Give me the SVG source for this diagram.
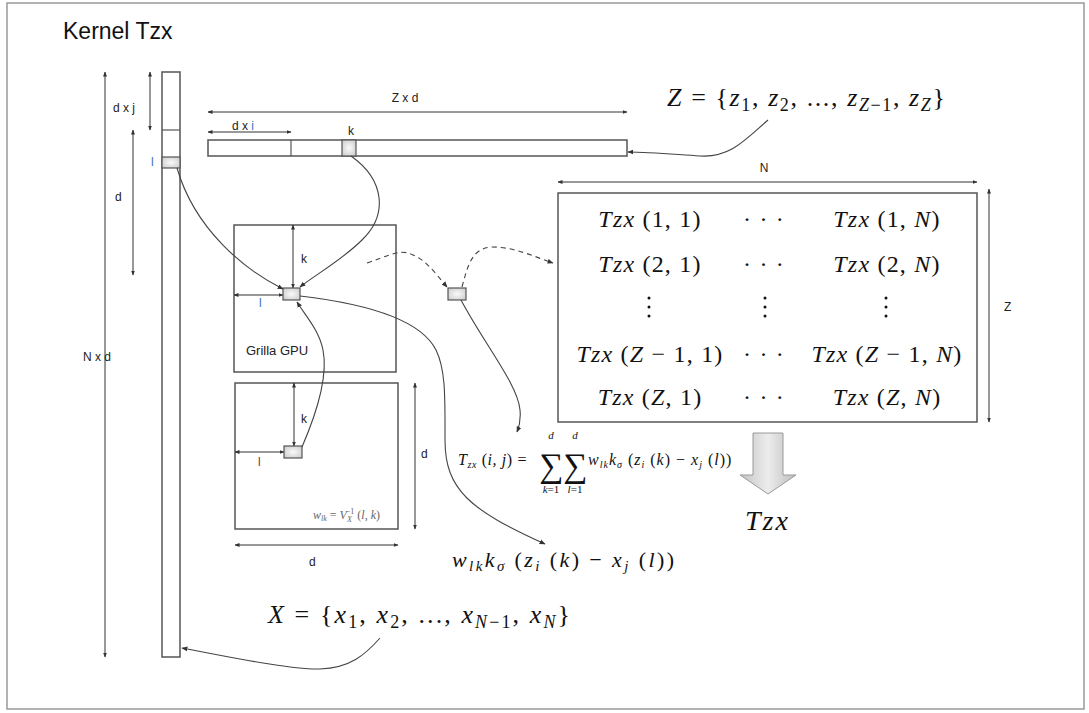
<svg xmlns="http://www.w3.org/2000/svg" width="1089" height="713" viewBox="0 0 1089 713">
<defs>
<style>
.lbl{font-family:"Liberation Sans",Arial,sans-serif;font-size:12px;fill:#222}
.m{font-family:"Liberation Serif","Times New Roman",serif;fill:#111}
.it{font-style:italic}
.box{fill:none;stroke:#555;stroke-width:1.5}
.dim{fill:none;stroke:#333;stroke-width:1;marker-start:url(#t);marker-end:url(#t)}
.con{fill:none;stroke:#444;stroke-width:1.1;marker-end:url(#a)}
.dash{fill:none;stroke:#444;stroke-width:1.1;stroke-dasharray:5 4;marker-end:url(#a)}
.cell{fill:url(#cg);stroke:#555;stroke-width:1.2}
</style>
<radialGradient id="cg" cx="0.5" cy="0.5" r="0.7"><stop offset="0" stop-color="#fafafa"/><stop offset="1" stop-color="#c8c8c8"/></radialGradient>
<linearGradient id="ag" x1="0" y1="0" x2="1" y2="0"><stop offset="0" stop-color="#c4c4c4"/><stop offset="0.5" stop-color="#ececec"/><stop offset="1" stop-color="#bdbdbd"/></linearGradient>
<marker id="a" viewBox="0 0 10 10" refX="9" refY="5" markerWidth="6" markerHeight="6" orient="auto" markerUnits="userSpaceOnUse"><path d="M0,1 L10,5 L0,9 z" fill="#333"/></marker>
<marker id="t" viewBox="0 0 10 10" refX="9" refY="5" markerWidth="5" markerHeight="5" orient="auto-start-reverse" markerUnits="userSpaceOnUse"><path d="M0,1 L10,5 L0,9 z" fill="#333"/></marker>
</defs>
<rect x="0" y="0" width="1089" height="713" fill="#fff"/>
<rect x="7" y="3" width="1077" height="706" fill="none" stroke="#999" stroke-width="1.5"/>
<text x="63" y="39" font-family="Liberation Sans,Arial,sans-serif" font-size="23" fill="#111">Kernel Tzx</text>

<g id="x-column">
<rect x="162" y="72" width="18" height="585" class="box" stroke="#777"/>
<line x1="162" y1="130" x2="180" y2="130" stroke="#555" stroke-width="1.2"/>
<rect x="162" y="157" width="18" height="11" class="cell"/>
<text x="151" y="166" class="lbl" style="fill:#3a6fc0">l</text>
</g>

<g id="dims-left">
<line x1="105" y1="72" x2="105" y2="657" class="dim"/>
<text x="83" y="361" class="lbl">N x d</text>
<line x1="150" y1="72" x2="150" y2="130" class="dim"/>
<text x="113" y="112" class="lbl">d x j</text>
<line x1="133" y1="130" x2="133" y2="275" class="dim"/>
<text x="115" y="201" class="lbl">d</text>
</g>

<g id="z-bar">
<rect x="208" y="140" width="419" height="16" class="box" stroke="#666"/>
<line x1="291" y1="140" x2="291" y2="156" stroke="#555" stroke-width="1.2"/>
<rect x="342" y="140" width="14" height="16" class="cell"/>
<text x="348" y="135" class="lbl">k</text>
<line x1="208" y1="112" x2="627" y2="112" class="dim"/>
<text x="405" y="102" class="lbl" text-anchor="middle">Z x d</text>
<line x1="208" y1="132" x2="291" y2="132" class="dim"/>
<text x="232" y="130" class="lbl">d x <tspan style="fill:#3a6fc0">i</tspan></text>
</g>

<g id="z-set">
<text x="667" y="106" class="m" font-size="26" letter-spacing="1.6"><tspan class="it">Z</tspan> = {<tspan class="it">z</tspan><tspan font-size="18" dy="5">1</tspan><tspan dy="-5">, </tspan><tspan class="it">z</tspan><tspan font-size="18" dy="5">2</tspan><tspan dy="-5">, ..., </tspan><tspan class="it">z</tspan><tspan font-size="18" dy="5"><tspan class="it">Z</tspan>−1</tspan><tspan dy="-5">, </tspan><tspan class="it">z</tspan><tspan font-size="18" dy="5" class="it">Z</tspan><tspan dy="-5">}</tspan></text>
</g>

<g id="grid1">
<rect x="234" y="225" width="162" height="147" class="box"/>
<line x1="293" y1="225" x2="293" y2="288" stroke="#333" stroke-width="1" marker-end="url(#t)" marker-start="url(#t)"/>
<line x1="234" y1="295" x2="283" y2="295" stroke="#333" stroke-width="1" marker-end="url(#t)" marker-start="url(#t)"/>
<rect x="283" y="288" width="17" height="12" class="cell"/>
<text x="301" y="263" class="lbl">k</text>
<text x="259" y="307" class="lbl" style="fill:#3a6fc0">l</text>
<text x="246" y="355" class="lbl" style="font-size:13px">Grilla GPU</text>
</g>

<g id="grid2">
<rect x="235" y="383" width="163" height="146" class="box"/>
<line x1="294" y1="383" x2="294" y2="446" stroke="#333" stroke-width="1" marker-end="url(#t)" marker-start="url(#t)"/>
<line x1="235" y1="452" x2="284" y2="452" stroke="#333" stroke-width="1" marker-end="url(#t)" marker-start="url(#t)"/>
<rect x="284" y="446" width="18" height="12" class="cell"/>
<text x="301" y="423" class="lbl">k</text>
<text x="258" y="466" class="lbl" style="fill:#8a2a2a">l</text>
<text x="313" y="519" class="m" font-size="12" style="fill:#666"><tspan class="it">w</tspan><tspan font-size="8" dy="2" class="it">lk</tspan><tspan dy="-2"> = </tspan><tspan class="it">V</tspan><tspan font-size="8" dy="3" class="it">X</tspan><tspan font-size="8" dx="-6" dy="-8">−1</tspan><tspan dy="5"> (</tspan><tspan class="it">l, k</tspan>)</text>
<line x1="415" y1="383" x2="415" y2="529" class="dim"/>
<text x="421" y="458" class="lbl">d</text>
<line x1="235" y1="545" x2="398" y2="545" class="dim"/>
<text x="309" y="566" class="lbl">d</text>
</g>

<g id="out-cell">
<rect x="448" y="288" width="18" height="12" class="cell"/>
</g>

<g id="matrix">
<rect x="558" y="193" width="419" height="229" class="box"/>
<line x1="558" y1="182" x2="977" y2="182" class="dim"/>
<text x="764" y="172" class="lbl" text-anchor="middle">N</text>
<line x1="989" y1="189" x2="989" y2="422" class="dim"/>
<text x="1004" y="311" class="lbl">Z</text>
<g class="m" font-size="24" text-anchor="middle" letter-spacing="1.2">
<text x="650" y="227"><tspan class="it">Tzx</tspan> (1, 1)</text>
<text x="764" y="227">· · ·</text>
<text x="887" y="227"><tspan class="it">Tzx</tspan> (1, <tspan class="it">N</tspan>)</text>
<text x="650" y="272"><tspan class="it">Tzx</tspan> (2, 1)</text>
<text x="764" y="272">· · ·</text>
<text x="887" y="272"><tspan class="it">Tzx</tspan> (2, <tspan class="it">N</tspan>)</text>
<text x="650" y="362"><tspan class="it">Tzx</tspan> (<tspan class="it">Z</tspan> − 1, 1)</text>
<text x="764" y="362">· · ·</text>
<text x="887" y="362"><tspan class="it">Tzx</tspan> (<tspan class="it">Z</tspan> − 1, <tspan class="it">N</tspan>)</text>
<text x="650" y="405"><tspan class="it">Tzx</tspan> (<tspan class="it">Z</tspan>, 1)</text>
<text x="764" y="405">· · ·</text>
<text x="887" y="405"><tspan class="it">Tzx</tspan> (<tspan class="it">Z</tspan>, <tspan class="it">N</tspan>)</text>
</g>
<g fill="#111">
<circle cx="649" cy="298" r="1.5"/><circle cx="649" cy="307" r="1.5"/><circle cx="649" cy="316" r="1.5"/>
<circle cx="765" cy="298" r="1.5"/><circle cx="765" cy="307" r="1.5"/><circle cx="765" cy="316" r="1.5"/>
<circle cx="886" cy="298" r="1.5"/><circle cx="886" cy="307" r="1.5"/><circle cx="886" cy="316" r="1.5"/>
</g>
</g>

<g id="t-formula" class="m">
<text x="458" y="465" font-size="16" letter-spacing="0.6"><tspan class="it">T</tspan><tspan font-size="10" dy="3" class="it">zx</tspan><tspan dy="-3"> (</tspan><tspan class="it">i, j</tspan>) =</text>
<text x="551" y="477" font-size="34" text-anchor="middle">∑</text>
<text x="575" y="477" font-size="34" text-anchor="middle">∑</text>
<text x="551" y="439" font-size="11" text-anchor="middle" class="it">d</text>
<text x="575" y="439" font-size="11" text-anchor="middle" class="it">d</text>
<text x="551" y="493" font-size="11" text-anchor="middle"><tspan class="it">k</tspan>=1</text>
<text x="575" y="493" font-size="11" text-anchor="middle"><tspan class="it">l</tspan>=1</text>
<text x="588" y="465" font-size="16" letter-spacing="1"><tspan class="it">w</tspan><tspan font-size="10" dy="3" class="it">lk</tspan><tspan dy="-3" class="it">k</tspan><tspan font-size="10" dy="3" class="it">σ</tspan><tspan dy="-3"> (</tspan><tspan class="it">z</tspan><tspan font-size="10" dy="3" class="it">i</tspan><tspan dy="-3"> (</tspan><tspan class="it">k</tspan>) − <tspan class="it">x</tspan><tspan font-size="10" dy="3" class="it">j</tspan><tspan dy="-3"> (</tspan><tspan class="it">l</tspan>))</text>
</g>

<g id="w-formula">
<text x="452" y="567" class="m" font-size="22" letter-spacing="2.4"><tspan class="it">w</tspan><tspan font-size="15" dy="4" class="it">lk</tspan><tspan dy="-4" class="it">k</tspan><tspan font-size="15" dy="4" class="it">σ</tspan><tspan dy="-4"> (</tspan><tspan class="it">z</tspan><tspan font-size="15" dy="4" class="it">i</tspan><tspan dy="-4"> (</tspan><tspan class="it">k</tspan>) − <tspan class="it">x</tspan><tspan font-size="15" dy="4" class="it">j</tspan><tspan dy="-4"> (</tspan><tspan class="it">l</tspan>))</text>
</g>

<g id="x-set">
<text x="268" y="623" class="m" font-size="26" letter-spacing="2.1"><tspan class="it">X</tspan> = {<tspan class="it">x</tspan><tspan font-size="18" dy="5">1</tspan><tspan dy="-5">, </tspan><tspan class="it">x</tspan><tspan font-size="18" dy="5">2</tspan><tspan dy="-5">, ..., </tspan><tspan class="it">x</tspan><tspan font-size="18" dy="5"><tspan class="it">N</tspan>−1</tspan><tspan dy="-5">, </tspan><tspan class="it">x</tspan><tspan font-size="18" dy="5" class="it">N</tspan><tspan dy="-5">}</tspan></text>
</g>

<g id="result">
<path d="M753,433 L783,433 L783,475 L796,475 L768,494 L740,475 L753,475 Z" fill="url(#ag)" stroke="#9a9a9a" stroke-width="1"/>
<text x="745" y="530" class="m it" font-size="28" letter-spacing="2">Tzx</text>
</g>

<g id="connectors">
<path class="con" d="M177,168 C195,230 245,270 283,289"/>
<path class="con" d="M351,156 C385,180 388,215 362,240 C342,260 315,275 300,287"/>
<path class="con" d="M302,447 C318,410 328,375 323,350 C319,330 305,315 297,302"/>
<path class="con" d="M300,296 C360,303 420,318 436,350 C446,370 445,400 445,440 C445,490 470,510 545,544"/>
<path class="dash" d="M367,263 C385,257 398,250 408,253 C425,258 435,273 447,287"/>
<path class="dash" d="M462,287 C468,265 472,248 492,247 C515,247 535,257 553,263"/>
<path class="con" d="M461,300 C485,345 518,385 520,410 C521,420 519,427 517,432"/>
<path class="con" d="M768,120 C745,140 730,158 700,156 C670,154 650,152 628,152"/>
<path class="con" d="M380,638 C365,655 350,668 320,669 C290,670 220,655 182,648"/>
</g>
</svg>
